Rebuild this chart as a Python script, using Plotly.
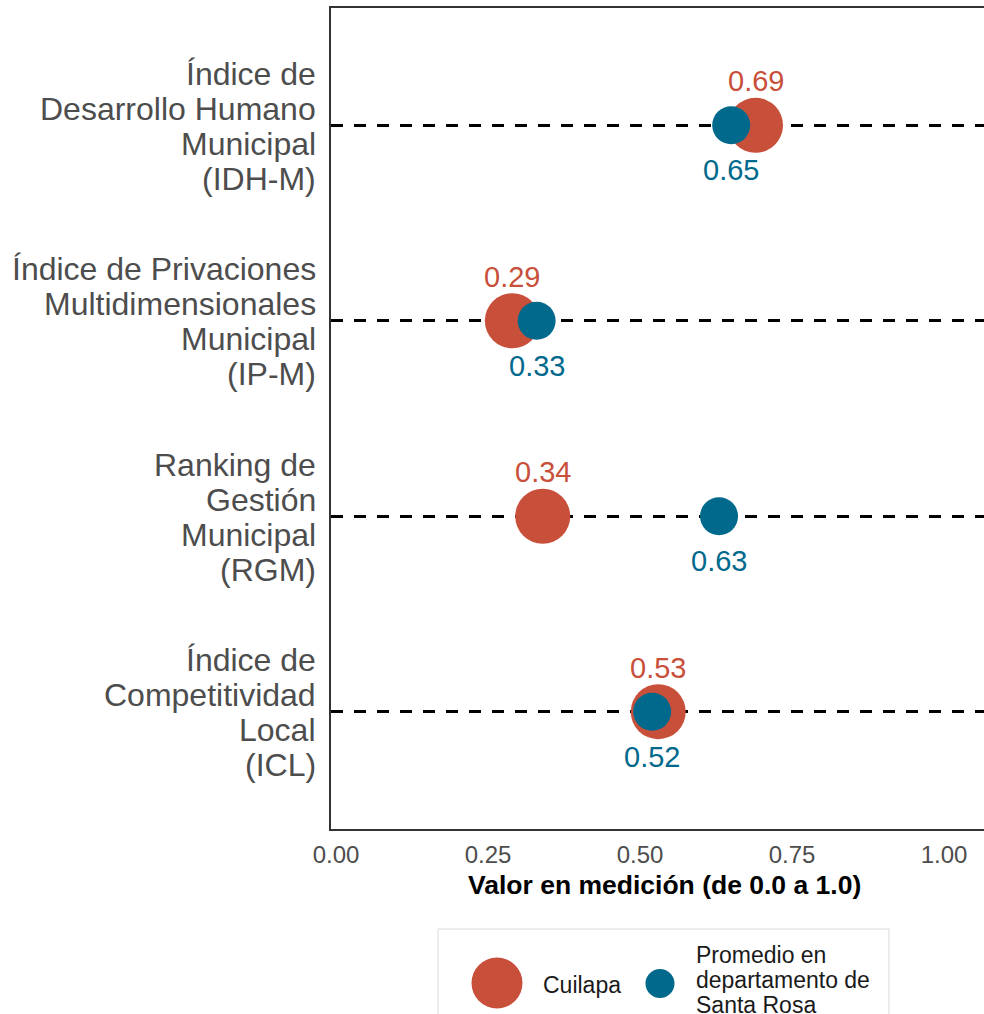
import plotly.graph_objects as go

# Indicadores municipales (de arriba hacia abajo)
categories = [
    "Índice de<br>Desarrollo Humano<br>Municipal<br>(IDH-M)",
    "Índice de Privaciones<br>Multidimensionales<br>Municipal<br>(IP-M)",
    "Ranking de<br>Gestión<br>Municipal<br>(RGM)",
    "Índice de<br>Competitividad<br>Local<br>(ICL)",
]
cuilapa = [0.69, 0.29, 0.34, 0.53]
santa_rosa = [0.65, 0.33, 0.63, 0.52]
tick_values = [0.0, 0.25, 0.50, 0.75, 1.00]
tick_labels = ["0.00", "0.25", "0.50", "0.75", "1.00"]
series_names = ["Cuilapa", "Promedio en<br>departamento de<br>Santa Rosa"]
x_title = "Valor en medición (de 0.0 a 1.0)"

RED = "#C8503A"
BLUE = "#00698C"
GREY = "#4D4D4D"
FONT = "Liberation Sans, Arial, sans-serif"

W, H = 984, 1014
L, R, T, B = 331, 0, 8, 185


def px_x(p):
    return (p - L) / (W - L - R)


def px_y(p):
    return (H - B - p) / (H - T - B)


ys = list(range(len(categories)))

fig = go.Figure()
fig.add_trace(go.Scatter(
    x=cuilapa, y=ys, mode="markers", name="Cuilapa",
    marker=dict(size=55, color=RED, line=dict(width=0)),
    showlegend=False, hoverinfo="skip",
))
fig.add_trace(go.Scatter(
    x=santa_rosa, y=ys, mode="markers", name="Santa Rosa",
    marker=dict(size=38, color=BLUE, line=dict(width=0)),
    showlegend=False, hoverinfo="skip",
))

annotations = []

# Etiquetas de valor: Cuilapa arriba, promedio departamental abajo
for i, v in enumerate(cuilapa):
    annotations.append(dict(
        x=v, y=i, xref="x", yref="y", text=f"{v:.2f}", showarrow=False,
        yshift=44, xanchor="center", yanchor="middle",
        font=dict(family=FONT, size=29, color=RED),
    ))
for i, v in enumerate(santa_rosa):
    annotations.append(dict(
        x=v, y=i, xref="x", yref="y", text=f"{v:.2f}", showarrow=False,
        yshift=-45, xanchor="center", yanchor="middle",
        font=dict(family=FONT, size=29, color=BLUE),
    ))

# Nombres de indicadores, una línea por anotación para controlar el interlineado
for i, cat in enumerate(categories):
    lines = cat.split("<br>")
    n = len(lines)
    for j, line in enumerate(lines):
        annotations.append(dict(
            x=0, y=i, xref="paper", yref="y", text=line, showarrow=False,
            xanchor="right", yanchor="middle", xshift=-13,
            yshift=-(j - (n - 1) / 2) * 35 - 1,
            font=dict(family=FONT, size=32, color=GREY),
        ))

# Título del eje x
annotations.append(dict(
    x=px_x(664), y=px_y(885), xref="paper", yref="paper", text=f"<b>{x_title}</b>",
    showarrow=False, xanchor="center", yanchor="middle",
    font=dict(family=FONT, size=26.5, color="#000000"),
))

# Leyenda
shapes = [
    dict(type="rect", xref="paper", yref="paper",
         x0=px_x(438), x1=px_x(889), y0=px_y(1030), y1=px_y(929),
         line=dict(color="#D9D9D9", width=1), fillcolor="white"),
    dict(type="circle", xref="paper", yref="paper",
         xsizemode="pixel", ysizemode="pixel",
         xanchor=px_x(497), yanchor=px_y(983),
         x0=-25.5, x1=25.5, y0=-25.5, y1=25.5,
         fillcolor=RED, line=dict(width=0)),
    dict(type="circle", xref="paper", yref="paper",
         xsizemode="pixel", ysizemode="pixel",
         xanchor=px_x(660), yanchor=px_y(983.5),
         x0=-14.5, x1=14.5, y0=-14.5, y1=14.5,
         fillcolor=BLUE, line=dict(width=0)),
]
annotations.append(dict(
    x=px_x(541), y=px_y(985), xref="paper", yref="paper", text=series_names[0],
    showarrow=False, xanchor="left", yanchor="middle",
    font=dict(family=FONT, size=23, color="#1A1A1A"),
))
for j, line in enumerate(series_names[1].split("<br>")):
    annotations.append(dict(
        x=px_x(694), y=px_y(955 + 25 * j), xref="paper", yref="paper", text=line,
        showarrow=False, xanchor="left", yanchor="middle",
        font=dict(family=FONT, size=23, color="#1A1A1A"),
    ))

fig.update_layout(
    width=W, height=H,
    margin=dict(l=L, r=R, t=T, b=B, pad=0),
    paper_bgcolor="white", plot_bgcolor="white",
    font=dict(family=FONT),
    showlegend=False,
    annotations=annotations,
    shapes=shapes,
    xaxis=dict(
        range=[-5 / 608, 648 / 608],
        tickvals=tick_values, ticktext=tick_labels,
        showgrid=False, zeroline=False, ticks="",
        showline=True, mirror=True, linecolor="#333333", linewidth=1.5,
        tickfont=dict(family=FONT, size=24, color=GREY),
        ticklabelstandoff=3,
        automargin=False,
    ),
    yaxis=dict(
        range=[3.6, -0.6],
        tickvals=ys, showticklabels=False, ticks="",
        showgrid=True, gridcolor="#000000", gridwidth=2.6, griddash="12px,11px",
        zeroline=False,
        showline=True, linecolor="#333333", linewidth=1.5,
        automargin=False,
    ),
)

fig.write_html("out.html")
